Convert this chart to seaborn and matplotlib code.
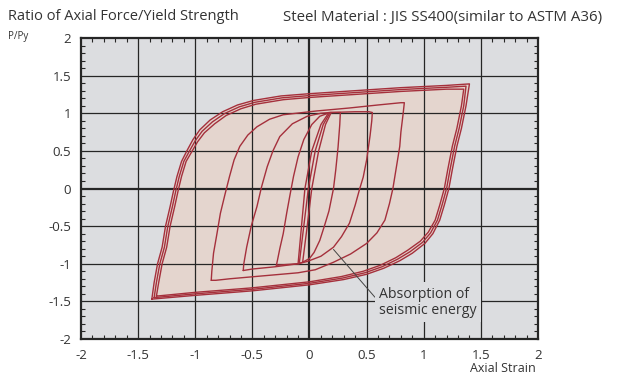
import numpy as np
import pandas as pd
import matplotlib
matplotlib.use("Agg")
import matplotlib.pyplot as plt
from matplotlib.ticker import MultipleLocator, FixedLocator
import seaborn as sns

# ---- hysteresis branches (axial strain, P/Py) ----
# small loops near yield
elastic_1_x = [-0.10, -0.07, -0.04, 0.02, 0.10, 0.17]
elastic_1_y = [-1.00, -0.50, 0.00, 0.50, 0.85, 1.01]
elastic_2_x = [-0.09, -0.05, -0.01, 0.05, 0.12, 0.18]
elastic_2_y = [-1.00, -0.50, 0.00, 0.50, 0.85, 1.01]
elastic_3_x = [-0.06, -0.02, 0.02, 0.08, 0.14, 0.19]
elastic_3_y = [-0.98, -0.50, 0.00, 0.50, 0.85, 1.01]

loop_1_x = [-0.29, -0.28, -0.26, -0.23, -0.20, -0.17, -0.14, -0.10, -0.05, 0.02, 0.09, 0.18, 0.27,
            0.265, 0.25, 0.23, 0.21, 0.17, 0.13, 0.09, 0.04, 0.00, -0.06, -0.10, -0.20, -0.29]
loop_1_y = [-1.02, -0.95, -0.80, -0.60, -0.33, -0.08, 0.16, 0.42, 0.65, 0.85, 0.96, 1.01, 1.01,
            0.85, 0.55, 0.25, 0.00, -0.30, -0.50, -0.69, -0.85, -0.93, -0.98, -1.00, -1.01, -1.02]

loop_2_x = [-0.58, -0.575, -0.55, -0.51, -0.46, -0.42, -0.37, -0.32, -0.26, -0.15, -0.02, 0.10, 0.18,
            0.40, 0.52, 0.55,
            0.545, 0.53, 0.50, 0.47, 0.44, 0.40, 0.35, 0.28, 0.21, 0.10, -0.02, -0.10, -0.30, -0.50, -0.58]
loop_2_y = [-1.09, -1.00, -0.78, -0.50, -0.24, 0.02, 0.29, 0.50, 0.69, 0.86, 0.96, 1.00, 1.01,
            1.02, 1.02, 1.01,
            0.90, 0.70, 0.38, 0.15, 0.00, -0.22, -0.46, -0.64, -0.78, -0.90, -0.97, -1.00, -1.04, -1.07, -1.09]

loop_3_x = [-0.86, -0.855, -0.84, -0.81, -0.78, -0.74, -0.70, -0.66, -0.61, -0.54, -0.46, -0.35, -0.23,
            0.06, 0.35, 0.60, 0.80, 0.83,
            0.82, 0.80, 0.79, 0.76, 0.73, 0.70, 0.66, 0.59, 0.50, 0.36, 0.21, 0.05, -0.10, -0.40, -0.70,
            -0.82, -0.86]
loop_3_y = [-1.22, -1.10, -0.86, -0.60, -0.33, -0.08, 0.16, 0.38, 0.56, 0.71, 0.82, 0.92, 0.98,
            1.03, 1.07, 1.11, 1.14, 1.14,
            1.00, 0.75, 0.56, 0.28, 0.00, -0.20, -0.42, -0.59, -0.73, -0.87, -0.98, -1.08, -1.12, -1.16,
            -1.20, -1.22, -1.22]

# large cycles (three repetitions)
outer_a_x = [-1.38, -1.36, -1.33, -1.29, -1.26, -1.22, -1.19, -1.16, -1.12, -1.07, -1.02, -0.96, -0.87,
             -0.76, -0.63, -0.49, -0.25, 0.00, 0.40, 0.80, 1.20, 1.40,
             1.37, 1.33, 1.29, 1.25, 1.22, 1.18, 1.14, 1.08, 1.01, 0.90, 0.79, 0.65, 0.50, 0.30, 0.00,
             -0.50, -1.00, -1.38]
outer_a_y = [-1.47, -1.25, -1.00, -0.78, -0.50, -0.24, -0.03, 0.16, 0.36, 0.51, 0.65, 0.78, 0.91,
             1.02, 1.11, 1.17, 1.23, 1.26, 1.30, 1.34, 1.37, 1.39,
             1.10, 0.80, 0.56, 0.25, 0.00, -0.22, -0.42, -0.60, -0.73, -0.86, -0.96, -1.06, -1.14, -1.21,
             -1.28, -1.36, -1.42, -1.47]

outer_b_x = [-1.36, -1.34, -1.31, -1.27, -1.24, -1.20, -1.17, -1.14, -1.10, -1.05, -1.00, -0.94,
             -0.85, -0.745, -0.615, -0.48, -0.24, 0.00, 0.40, 0.80, 1.20, 1.37,
             1.35, 1.31, 1.27, 1.23, 1.20, 1.16, 1.12, 1.06, 0.99, 0.88, 0.77, 0.635, 0.485, 0.29,
             0.00, -0.50, -1.00, -1.36]
outer_b_y = [-1.45, -1.25, -1.00, -0.78, -0.50, -0.24, -0.03, 0.16, 0.36, 0.50, 0.635, 0.76,
             0.885, 0.995, 1.085, 1.145, 1.205, 1.235, 1.275, 1.315, 1.345, 1.36,
             1.10, 0.80, 0.56, 0.25, 0.00, -0.22, -0.42, -0.59, -0.715, -0.84, -0.94, -1.04, -1.12,
             -1.19, -1.26, -1.34, -1.40, -1.45]

outer_c_x = [-1.34, -1.32, -1.29, -1.25, -1.22, -1.18, -1.15, -1.12, -1.08, -1.03, -0.98, -0.92,
             -0.83, -0.73, -0.60, -0.47, -0.23, 0.00, 0.40, 0.80, 1.20, 1.35,
             1.33, 1.29, 1.25, 1.21, 1.18, 1.14, 1.10, 1.04, 0.97, 0.86, 0.755, 0.62, 0.47, 0.28,
             0.00, -0.50, -1.00, -1.34]
outer_c_y = [-1.43, -1.25, -1.00, -0.78, -0.50, -0.24, -0.03, 0.16, 0.36, 0.49, 0.62, 0.74,
             0.86, 0.97, 1.06, 1.12, 1.18, 1.21, 1.25, 1.29, 1.32, 1.32,
             1.10, 0.80, 0.56, 0.25, 0.00, -0.22, -0.42, -0.58, -0.70, -0.82, -0.92, -1.02, -1.10,
             -1.17, -1.24, -1.32, -1.38, -1.43]

branches = {
    "elastic_1": (elastic_1_x, elastic_1_y),
    "elastic_2": (elastic_2_x, elastic_2_y),
    "elastic_3": (elastic_3_x, elastic_3_y),
    "loop_1": (loop_1_x, loop_1_y),
    "loop_2": (loop_2_x, loop_2_y),
    "loop_3": (loop_3_x, loop_3_y),
    "outer_a": (outer_a_x, outer_a_y),
    "outer_b": (outer_b_x, outer_b_y),
    "outer_c": (outer_c_x, outer_c_y),
}

tick_values = [-2, -1.5, -1, -0.5, 0, 0.5, 1, 1.5, 2]
tick_labels = ["-2", "-1.5", "-1", "-0.5", "0", "0.5", "1", "1.5", "2"]

# annotation: pointer target and label position
note_text = "Absorption of\nseismic energy"
note_xy = (0.21, -0.81)
note_text_xy = (0.61, -1.51)

# ---- styling ----
sns.set_theme(style="white")
plt.rcParams["font.family"] = ["Open Sans", "DejaVu Sans"]
plt.rcParams["axes.unicode_minus"] = False

BG = "#dcdde0"
FILL = "#e4d5ce"
RED = "#a5303c"
INK = "#262626"
TXT = "#333333"

fig = plt.figure(figsize=(6.17, 3.84), dpi=100)
ax = fig.add_axes([81 / 617, 1 - 339 / 384, 457 / 617, 301 / 384])
ax.set_facecolor(BG)

rows = []
for name, (xs, ys) in branches.items():
    for i, (xv, yv) in enumerate(zip(xs, ys)):
        rows.append({"branch": name, "step": i, "strain": xv, "ratio": yv})
df = pd.DataFrame(rows)

# energy absorbed: shaded inside the largest loop
ax.fill(outer_a_x, outer_a_y, color=FILL, lw=0, zorder=1)

# grid
for v in tick_values[1:-1]:
    w = 1.6 if v == 0 else 0.9
    ax.axvline(v, color=INK, lw=w, zorder=1.5)
    ax.axhline(v, color=INK, lw=w, zorder=1.5)

sns.lineplot(data=df, x="strain", y="ratio", units="branch", estimator=None, sort=False,
             color=RED, lw=1.0, ax=ax, zorder=3, legend=False)

ax.set_xlim(-2, 2)
ax.set_ylim(-2, 2)
ax.xaxis.set_major_locator(FixedLocator(tick_values))
ax.yaxis.set_major_locator(FixedLocator(tick_values))
ax.set_xticklabels(tick_labels)
ax.set_yticklabels(tick_labels)
ax.xaxis.set_minor_locator(MultipleLocator(0.1))
ax.yaxis.set_minor_locator(MultipleLocator(0.1))
ax.tick_params(which="both", direction="in", top=True, right=True, bottom=True, left=True,
               color=INK)
ax.tick_params(which="major", length=0, labelsize=9.5, labelcolor=TXT, pad=7)
ax.tick_params(which="minor", length=3.2, width=0.8)
ax.set_xlabel("")
ax.set_ylabel("")
for s in ax.spines.values():
    s.set_visible(True)
    s.set_color(INK)
    s.set_linewidth(1.6)
    s.set_zorder(4)

ax.annotate(note_text, xy=note_xy, xytext=note_text_xy, ha="left", va="center",
            fontsize=10.2, color=TXT, linespacing=1.1, zorder=5,
            bbox=dict(boxstyle="square,pad=0.3", fc=BG, ec="none"),
            arrowprops=dict(arrowstyle="-", color="#444444", lw=0.7,
                            shrinkA=0, shrinkB=0, relpos=(0, 0.5)))

fig.text(8 / 617, 1 - 16 / 384, "Ratio of Axial Force/Yield Strength", ha="left", va="center",
         fontsize=10.5, color=TXT)
fig.text(8 / 617, 1 - 37 / 384, "P/Py", ha="left", va="center", fontsize=7, color=TXT)
fig.text(602 / 617, 1 - 17 / 384, "Steel Material : JIS SS400(similar to ASTM A36)",
         ha="right", va="center", fontsize=10.8, color=TXT)
fig.text(536 / 617, 1 - 369 / 384, "Axial Strain", ha="right", va="center",
         fontsize=9, color=TXT)

fig.savefig("out.png", dpi=100, facecolor="white")
